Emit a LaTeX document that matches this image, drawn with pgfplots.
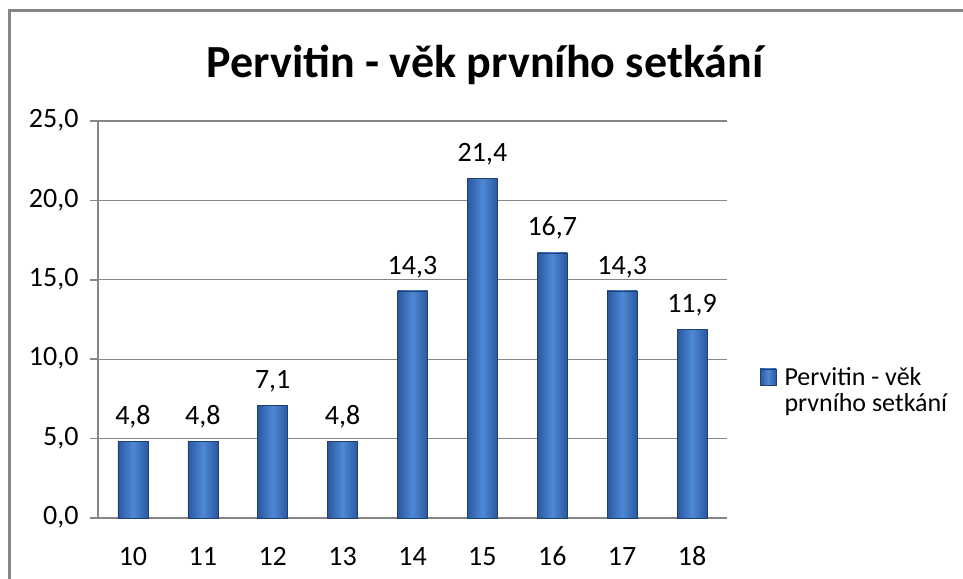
\documentclass[border=0pt]{standalone}
\usepackage{pgfplots}
\pgfplotsset{compat=1.18}
\usepackage{fontspec}
\setmainfont{Carlito}
\definecolor{axgray}{HTML}{868686}
\definecolor{bardark}{HTML}{2A589E}
\definecolor{barlight}{HTML}{4E88D6}
\definecolor{baredge}{HTML}{1F3F6E}
\pgfplotsset{
  barstyle/.style={draw=baredge, line width=0.6pt, left color=bardark, right color=bardark, middle color=barlight, bar shift=0pt},
}
\begin{document}
\begin{tikzpicture}[x=1pt,y=1pt]
\useasboundingbox (0,0) rectangle (963,-578);
\draw[axgray, line width=2.5pt] (9.5,-700) -- (9.5,-10.5) -- (1100,-10.5);
\node[font=\fontsize{46}{54}\selectfont\bfseries] at (485,-65) {Pervitin - věk prvního setkání};
\begin{axis}[
  at={(98pt,-518pt)}, anchor=south west,
  scale only axis, width=629pt, height=397pt,
  font=\fontsize{28}{33}\selectfont,
  ymin=0, ymax=25, ytick={0,5,...,25},
  xmin=0.5, xmax=9.5,
  xtick={1,...,9}, xticklabels={10,11,12,13,14,15,16,17,18},
  minor xtick={0.5,1.5,...,9.5},
  axis x line*=bottom, axis y line*=left,
  axis line style={axgray, line width=1.5pt, -},
  ymajorgrids,
  major grid style={axgray, line width=1.2pt},
  tick style={axgray, line width=1.5pt},
  xtick style={draw=none},
  minor x tick style={axgray, line width=1.5pt},
  minor tick length=8pt,
  major tick length=8pt,
  tick align=outside,
  /pgf/number format/.cd, fixed, fixed zerofill, precision=1, use comma, assume math mode=true, /pgfplots/.cd,
  yticklabel style={xshift=-8pt},
  typeset ticklabels with strut,
  xticklabel style={yshift=-13pt},
  ybar, bar width=30pt,
  nodes near coords={\pgfmathprintnumber[fixed, fixed zerofill, precision=1, use comma, assume math mode=true]{\pgfplotspointmeta}},
  nodes near coords style={font=\fontsize{28}{33}\selectfont, black, inner sep=10pt, yshift=3pt},
  legend style={at={(1.052,0.322)}, anchor=west, draw=none, fill=none, font=\fontsize{26}{34}\selectfont, align=left, inner sep=0pt, row sep=3pt,
    /tikz/every odd column/.append style={column sep=6pt}},
  legend cell align=left,
  legend image code/.code={\fill[left color=bardark, right color=bardark, middle color=barlight] (0pt,-8pt) rectangle (16pt,8pt);},
]
\addplot[barstyle] coordinates {(1,4.8)};
\addlegendentry{Pervitin - věk}
\addlegendimage{empty legend}
\addlegendentry{prvního setkání}
\addplot[barstyle, forget plot] coordinates {(2,4.8)};
\addplot[barstyle, forget plot] coordinates {(3,7.1)};
\addplot[barstyle, forget plot] coordinates {(4,4.8)};
\addplot[barstyle, forget plot] coordinates {(5,14.3)};
\addplot[barstyle, forget plot] coordinates {(6,21.4)};
\addplot[barstyle, forget plot] coordinates {(7,16.7)};
\addplot[barstyle, forget plot] coordinates {(8,14.3)};
\addplot[barstyle, forget plot] coordinates {(9,11.9)};
\end{axis}
\end{tikzpicture}
\end{document}
